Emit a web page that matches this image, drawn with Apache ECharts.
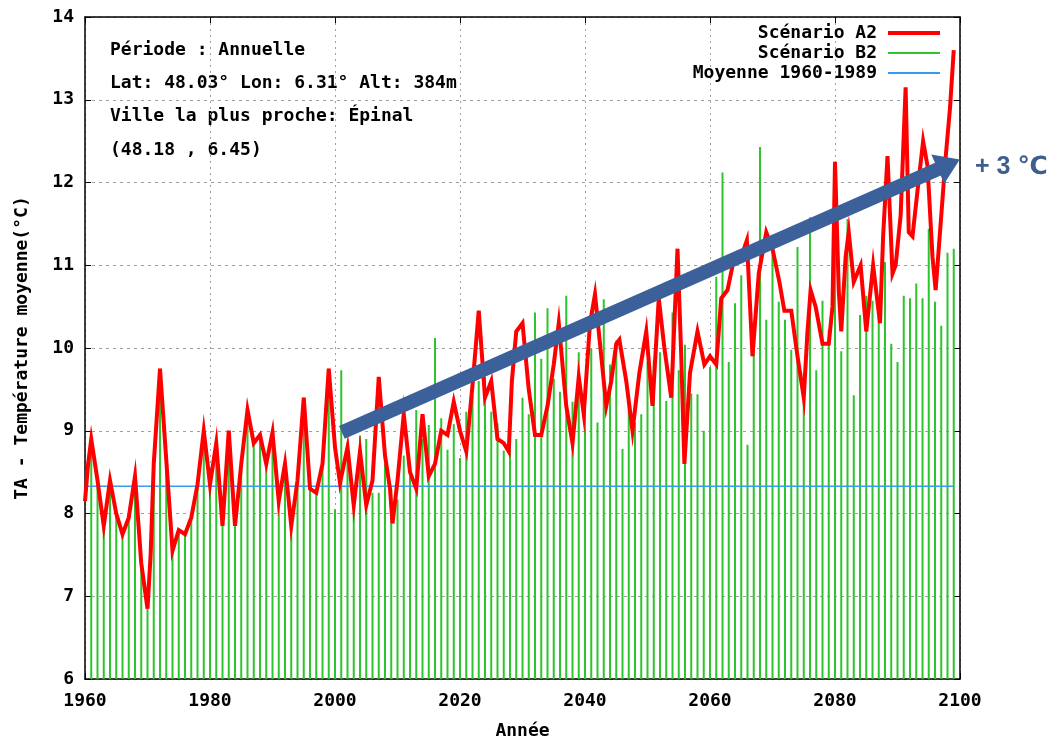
<!DOCTYPE html>
<html><head><meta charset="utf-8">
<script src="https://cdn.jsdelivr.net/npm/echarts@6/dist/echarts.min.js"></script>
<style>html,body{margin:0;padding:0;background:#fff}#c{width:1064px;height:745px}</style>
</head><body><div id="c"></div>
<script>
// ---- tick labels ----
const xTicks = [1960, 1980, 2000, 2020, 2040, 2060, 2080, 2100];
const yTicks = [6, 7, 8, 9, 10, 11, 12, 13, 14];

// ---- Scénario B2 (annual impulses, 1961..2099) ----
const b2Start = 1961;
const b2Values = [
  8.9, 8.45, 7.85, 8.4, 8.0, 7.75, 7.95, 8.45, 7.4, 6.85,
  8.6, 9.75, 8.65, 7.55, 7.8, 7.75, 7.95, 8.35, 9.0, 8.35,
  8.85, 7.85, 9.0, 7.85, 8.6, 9.25, 8.85, 8.95, 8.6, 8.98,
  8.15, 8.6, 7.85, 8.4, 9.4, 8.3, 8.25, 8.6, 9.75,
  8.05, 9.73, 8.75, 8.1, 8.94, 8.9, 8.25, 8.25, 8.6, 8.3,
  8.17, 8.7, 8.45, 9.25, 8.9, 9.07, 10.12, 9.15, 8.77, 9.08,
  8.67, 9.23, 9.43, 9.6, 9.65, 9.23, 9.09, 8.76, 9.4, 8.9,
  9.4, 9.2, 10.43, 9.87, 10.48, 9.63, 9.47, 10.63, 9.35, 9.95,
  9.53, 9.99, 9.1, 10.59, 9.8, 10.09, 8.78, 9.4, 9.1, 9.2,
  9.83, 9.85, 9.95, 9.36, 10.43, 9.73, 10.04, 9.45, 9.44, 9.0,
  9.77, 10.86, 12.12, 9.83, 10.54, 10.88, 8.83, 10.08, 12.43, 10.34,
  11.37, 10.56, 10.34, 9.98, 11.22, 9.7, 11.58, 9.73, 10.57, 10.22,
  11.59, 9.96, 11.56, 9.43, 10.4, 10.63, 10.57, 10.57, 11.04, 10.05,
  9.83, 10.63, 10.6, 10.78, 10.6, 11.44, 10.56, 10.27, 11.15, 11.2
];

// ---- Scénario A2 (red curve) ----
const a2Years = [
  1960, 1960.5, 1961, 1962, 1963, 1964, 1965, 1966, 1967, 1968, 1969, 1970, 1970.5, 1971, 1972, 1973, 1974, 1975, 1976, 1977, 1978, 1979,
  1980, 1981, 1982, 1983, 1984, 1985, 1986, 1987, 1988, 1989, 1990, 1991, 1992, 1993, 1994, 1995, 1996, 1997, 1998, 1999,
  2000, 2000.8, 2002, 2003, 2004, 2005, 2006, 2007, 2008, 2008.8, 2009.2, 2010, 2011, 2012, 2013, 2014, 2015, 2016, 2017,
  2018, 2019, 2020, 2021, 2022, 2023, 2024, 2025, 2026, 2027, 2027.8, 2028.3, 2029, 2030, 2031, 2032, 2033, 2034, 2035,
  2035.8, 2037, 2038, 2039, 2039.8, 2040.8, 2041.6, 2043, 2043.4, 2044.2, 2045, 2045.5, 2046.6, 2047.6, 2048.7, 2049.8,
  2050.8, 2051.8, 2052.7, 2053.8, 2054.8, 2055.4, 2055.9, 2056.8, 2058, 2059.1, 2060, 2061, 2061.8, 2062.8, 2063.9, 2065,
  2065.9, 2066.8, 2067.8, 2069, 2070, 2071.1, 2071.9, 2073, 2074, 2075, 2075.6, 2076.1, 2076.9, 2078, 2079, 2079.6, 2080,
  2080.6, 2081, 2081.7, 2082.2, 2083, 2084.1, 2085, 2086.1, 2087.2, 2087.7, 2088.4, 2089.2, 2089.7, 2090.5, 2091.3, 2091.8,
  2092.4, 2093.2, 2094.1, 2094.8, 2095.6, 2096.1, 2096.9, 2097.7, 2098.4, 2099
];
const a2Values = [
  8.15, 8.6, 8.9, 8.4, 7.85, 8.4, 8.0, 7.75, 7.95, 8.45, 7.4, 6.85, 7.5, 8.6, 9.75, 8.65, 7.55, 7.8, 7.75, 7.95, 8.35, 9.0,
  8.35, 8.85, 7.85, 9.0, 7.85, 8.6, 9.25, 8.85, 8.95, 8.6, 8.98, 8.15, 8.6, 7.85, 8.4, 9.4, 8.3, 8.25, 8.6, 9.75,
  8.8, 8.37, 8.8, 8.1, 8.75, 8.1, 8.4, 9.65, 8.7, 8.3, 7.88, 8.4, 9.2, 8.5, 8.3, 9.2, 8.45, 8.6, 9.0,
  8.95, 9.35, 9.0, 8.75, 9.55, 10.45, 9.4, 9.6, 8.9, 8.85, 8.75, 9.6, 10.2, 10.3, 9.5, 8.95, 8.95, 9.3, 9.8,
  10.3, 9.3, 8.85, 9.65, 9.2, 10.3, 10.65, 9.6, 9.3, 9.6, 10.05, 10.1, 9.6, 9.0, 9.7, 10.2,
  9.3, 10.6, 10.0, 9.4, 11.2, 9.9, 8.6, 9.7, 10.2, 9.8, 9.9, 9.8, 10.6, 10.7, 11.1, 11.1,
  11.3, 9.9, 10.9, 11.4, 11.2, 10.8, 10.45, 10.45, 9.9, 9.4, 10.2, 10.7, 10.5, 10.05, 10.05, 10.5, 12.25,
  10.7, 10.2, 11.1, 11.4, 10.8, 11.0, 10.2, 11.0, 10.3, 11.35, 12.32, 10.9, 11.0, 11.6, 13.15, 11.4,
  11.35, 11.9, 12.5, 12.2, 11.1, 10.7, 11.5, 12.3, 12.9, 13.6
];

// ---- Moyenne 1960-1989 ----
const meanYears = [1960, 2099];
const meanValue = 8.33;

// ---- annotation arrow (data coords) ----
const arrowFrom = [2001.1, 8.98];
const arrowTo = [2098.2, 12.22];
const arrowLabel = '+ 3 \u2103';

const infoLines = [
  'Période : Annuelle',
  'Lat: 48.03° Lon: 6.31° Alt: 384m',
  'Ville la plus proche: Épinal',
  '(48.18 , 6.45)'
];

const MONO = "'DejaVu Sans Mono', 'Liberation Mono', monospace";
const RED = '#ff0000', GREEN = '#2ec42e', BLUE = '#3a9af2', ARROW = '#3c609a';
const FS = 18;

const b2Data = b2Values.map((v, i) => [b2Start + i, v]);
const a2Data = a2Years.map((y, i) => [y, a2Values[i]]);
const meanData = meanYears.map(y => [y, meanValue]);

const chart = echarts.init(document.getElementById('c'), null, {renderer: 'canvas'});

const legendBase = {
  orient: 'vertical', right: 124, align: 'right', icon: 'rect', itemWidth: 52,
  padding: 0, selectedMode: false,
  textStyle: {fontFamily: MONO, fontWeight: 'bold', fontSize: FS, color: '#000', padding: [0, 6, 0, 0]}
};

const mirror = {
  axisLine: {show: true, lineStyle: {color: '#000', width: 1.5}},
  axisTick: {show: true, inside: true, length: 6, lineStyle: {color: '#000'}},
  axisLabel: {show: false}, splitLine: {show: false}
};

chart.setOption({
  animation: false,
  backgroundColor: '#fff',
  grid: {left: 85, right: 104, top: 17, bottom: 63, containLabel: false},
  legend: [
    Object.assign({}, legendBase, {top: 24, itemHeight: 4, data: ['Scénario A2']}),
    Object.assign({}, legendBase, {top: 44, itemHeight: 2, data: ['Scénario B2']}),
    Object.assign({}, legendBase, {top: 64, itemHeight: 2, data: ['Moyenne 1960-1989']})
  ],
  xAxis: [{
    type: 'value', min: xTicks[0], max: xTicks[xTicks.length - 1], interval: 20,
    name: 'Année', nameLocation: 'middle', nameGap: 43,
    nameTextStyle: {fontFamily: MONO, fontWeight: 'bold', fontSize: FS, color: '#000'},
    axisLine: {show: true, onZero: false, lineStyle: {color: '#000', width: 1.5}},
    axisTick: {show: true, inside: true, length: 6, lineStyle: {color: '#000'}},
    axisLabel: {fontFamily: MONO, fontWeight: 'bold', fontSize: FS, color: '#000', margin: 13,
      formatter: v => xTicks.includes(v) ? String(v) : ''},
    splitLine: {show: true, lineStyle: {color: '#a0a0a0', width: 1, type: [2, 4]}}
  }, Object.assign({type: 'value', position: 'top', min: xTicks[0], max: xTicks[xTicks.length - 1], interval: 20}, mirror)],
  yAxis: [{
    type: 'value', min: yTicks[0], max: yTicks[yTicks.length - 1], interval: 1,
    name: 'TA - Température moyenne(°C)', nameLocation: 'middle', nameGap: 54, nameRotate: 90,
    nameTextStyle: {fontFamily: MONO, fontWeight: 'bold', fontSize: FS, color: '#000'},
    axisLine: {show: true, onZero: false, lineStyle: {color: '#000', width: 1.5}},
    axisTick: {show: true, inside: true, length: 6, lineStyle: {color: '#000'}},
    axisLabel: {fontFamily: MONO, fontWeight: 'bold', fontSize: FS, color: '#000', margin: 11,
      formatter: v => yTicks.includes(v) ? String(v) : ''},
    splitLine: {show: true, lineStyle: {color: '#a0a0a0', width: 1, type: [3, 4]}}
  }, Object.assign({type: 'value', position: 'right', min: yTicks[0], max: yTicks[yTicks.length - 1], interval: 1}, mirror)],
  series: [
    {
      name: 'Scénario B2', type: 'bar', data: b2Data, barWidth: 2, clip: true, z: 2,
      itemStyle: {color: GREEN}, silent: true
    },
    {
      name: 'Moyenne 1960-1989', type: 'line', data: meanData, showSymbol: false, z: 3,
      itemStyle: {color: BLUE}, lineStyle: {color: BLUE, width: 1.6}, silent: true
    },
    {
      name: 'Scénario A2', type: 'line', data: a2Data, showSymbol: false, z: 4,
      itemStyle: {color: RED}, lineStyle: {color: RED, width: 4, join: 'miter'}, silent: true
    },
    {
      type: 'line', data: [], z: 10, silent: true,
      markLine: {
        silent: true, animation: false,
        symbol: ['none', 'triangle'], symbolSize: [32, 24],
        label: {show: false},
        lineStyle: {color: ARROW, width: 14, type: 'solid', opacity: 1},
        itemStyle: {color: ARROW},
        emphasis: {disabled: true},
        data: [[{coord: arrowFrom}, {coord: arrowTo}]]
      }
    }
  ],
  graphic: infoLines.map((t, i) => ({
    type: 'text', left: 110, top: 41 + i * 33.3, silent: true,
    style: {text: t, font: 'bold ' + FS + 'px ' + MONO, fill: '#000'}
  })).concat([{
    type: 'text', left: 975, top: 155, silent: true,
    style: {text: arrowLabel, font: 'bold 25px "Liberation Sans", "DejaVu Sans", sans-serif', fill: '#3e5f8e'}
  }])
});
</script>
</body></html>
